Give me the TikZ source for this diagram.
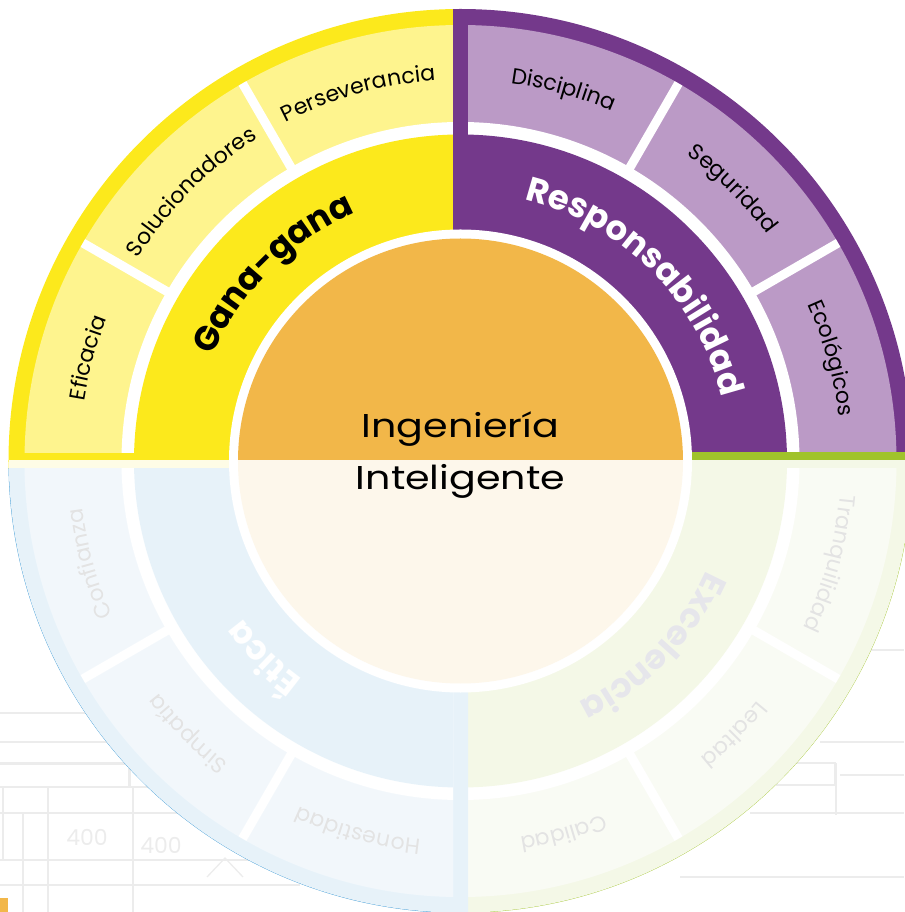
\documentclass[tikz,border=0pt]{standalone}
\usepackage{fontspec}
\setmainfont{Poppins}
\usetikzlibrary{decorations.text,calc}
\definecolor{yelD}{HTML}{FCE91C}
\definecolor{yelL}{HTML}{FEF48E}
\definecolor{purD}{HTML}{74398B}
\definecolor{purL}{HTML}{BB9AC6}
\definecolor{orng}{HTML}{F2B749}
\definecolor{bluD}{HTML}{2D91D1}
\definecolor{bluL}{HTML}{91BEE3}
\definecolor{grnD}{HTML}{A0C32B}
\definecolor{grnL}{HTML}{CFDDA0}
\definecolor{excT}{HTML}{1F2050}
\definecolor{bgline}{HTML}{ECECEC}
\newcommand\arclabel[5]{% #1 centre angle, #2 half span, #3 radius, #4 colour, #5 format|text
  \path[decorate,decoration={text along path,text align=center,text color=#4,text={#5}}]
    ($(0,0)+({#1+#2}:#3)$) arc[start angle={#1+#2},end angle={#1-#2},radius=#3];}
\newcommand\quadrant[6]{% #1 outer clip, #2 inner clip, #3 dark, #4 light, #5 sep1, #6 sep2
  \begin{scope}
    \clip #1;
    \fill[#3] (0,0) circle (452);
    \clip #2;
    \fill[#4] (0,0) circle (436);
    \fill[white] (0,0) circle (339);
    \fill[#3] (0,0) circle (326.5);
    \draw[sepline] (#5:330) -- (#5:436);
    \draw[sepline] (#6:330) -- (#6:436);
  \end{scope}}
\begin{document}
\begin{tikzpicture}[x=1pt,y=1pt,
  sepline/.style={white,line width=9pt},
  bgl/.style={bgline,line width=1.3pt},
  bgthick/.style={bgline,line width=3pt},
]
\useasboundingbox (-460.5,-451) rectangle (443.5,461);
% faint blueprint background (pixel coords shifted to the centre)
\begin{scope}[shift={(-460.5,461)},yscale=-1]
  \draw[bgl] (0,713) -- (120,713);
  \draw[bgl] (0,742) -- (140,742);
  \draw[bgthick] (0,763) -- (135,763);
  \draw[bgl] (0,787) -- (200,787);
  \draw[bgthick] (130,763) -- (130,787);
  \draw[bgl] (48,787) -- (48,912);
  \draw[bgl] (3,787) -- (3,860);
  \draw[bgl] (133,787) -- (133,912);
  \draw[bgl] (23,813) -- (23,912);
  \draw[bgl] (0,813) -- (260,813);
  \draw[bgl] (0,860) -- (280,860);
  \draw[bgl] (0,885) -- (300,885);
  \draw[bgl] (207,877) -- (225,858) -- (243,877);
  \draw[bgl] (860,650) -- (904,650);
  \draw[bgl] (820,742) -- (904,742);
  \draw[bgl] (777,763) rectangle (835,785);
  \draw[bgl] (840,775) -- (904,775);
  \draw[bgl] (836,763) -- (836,815);
  \draw[bgl] (750,813) -- (904,813);
  \draw[bgl] (680,877) -- (904,877);
  \node[text=bgline,font=\fontsize{22}{22}\selectfont,inner sep=0pt] (n400a) at (87,837) {400};
  \node[text=bgline,font=\fontsize{22}{22}\selectfont,inner sep=0pt] (n400b) at (161,845) {400};
\end{scope}
% quadrants
\quadrant{(-7.5,-8) rectangle (-470,470)}{(-7.5,8) rectangle (-470,470)}{yelD}{yelL}{120}{150}
\quadrant{(-7.5,8) rectangle (470,470)}{(7.5,8) rectangle (470,470)}{purD}{purL}{60}{30}
\quadrant{(7.5,8) rectangle (470,-470)}{(7.5,-8) rectangle (470,-470)}{grnD}{grnL}{300}{330}
\quadrant{(7.5,-8) rectangle (-470,-470)}{(-7.5,-8) rectangle (-470,-470)}{bluD}{bluL}{210}{240}
% centre
\fill[white] (0,0) circle (231.5);
\fill[orng] (0,0) circle (222.5);
% cell labels
\def\cf{|\fontsize{22}{22}\selectfont|}
\arclabel{105.5}{28}{381}{black}{\cf Perseverancia}
\arclabel{135}{28}{381}{black}{\cf Solucionadores}
\arclabel{164.5}{28}{381}{black}{\cf Eficacia}
\arclabel{74.5}{28}{381}{black}{\cf Disciplina}
\arclabel{45}{28}{381}{black}{\cf Seguridad}
\arclabel{15.5}{28}{381}{black}{\cf Ecológicos}
\arclabel{344.5}{28}{381}{black}{\cf Tranquilidad}
\arclabel{315}{28}{381}{black}{\cf Lealtad}
\arclabel{285.5}{28}{381}{black}{\cf Calidad}
\arclabel{254.5}{28}{381}{black}{\cf Honestidad}
\arclabel{225}{28}{381}{black}{\cf Simpatía}
\arclabel{195.5}{28}{381}{black}{\cf Confianza}
% ring labels
\def\bf{|\fontsize{34}{34}\selectfont\bfseries|}
\arclabel{135}{44}{269}{black}{\bf Gana-gana}
\arclabel{45}{44}{269}{white}{\bf Responsabilidad}
\arclabel{316}{44}{269}{excT}{\bf Excelencia}
\arclabel{225}{44}{269}{white}{\bf Ética}
% fading of the lower half
\begin{scope}
  \clip (-470,0) rectangle (470,-470);
  \fill[white,fill opacity=0.89] (0,0) circle (451.7);
\end{scope}
% corner mark
\fill[orng] (-460.5,-437) rectangle (-452.5,-451);
% title
\node[anchor=base,font=\fontsize{33}{33}\selectfont,inner sep=0pt,xscale=1.2] (t1) at (0,23) {Ingeniería};
\node[anchor=base,font=\fontsize{33}{33}\selectfont,inner sep=0pt,xscale=1.2] (t2) at (0,-29) {Inteligente};
\end{tikzpicture}
\end{document}
